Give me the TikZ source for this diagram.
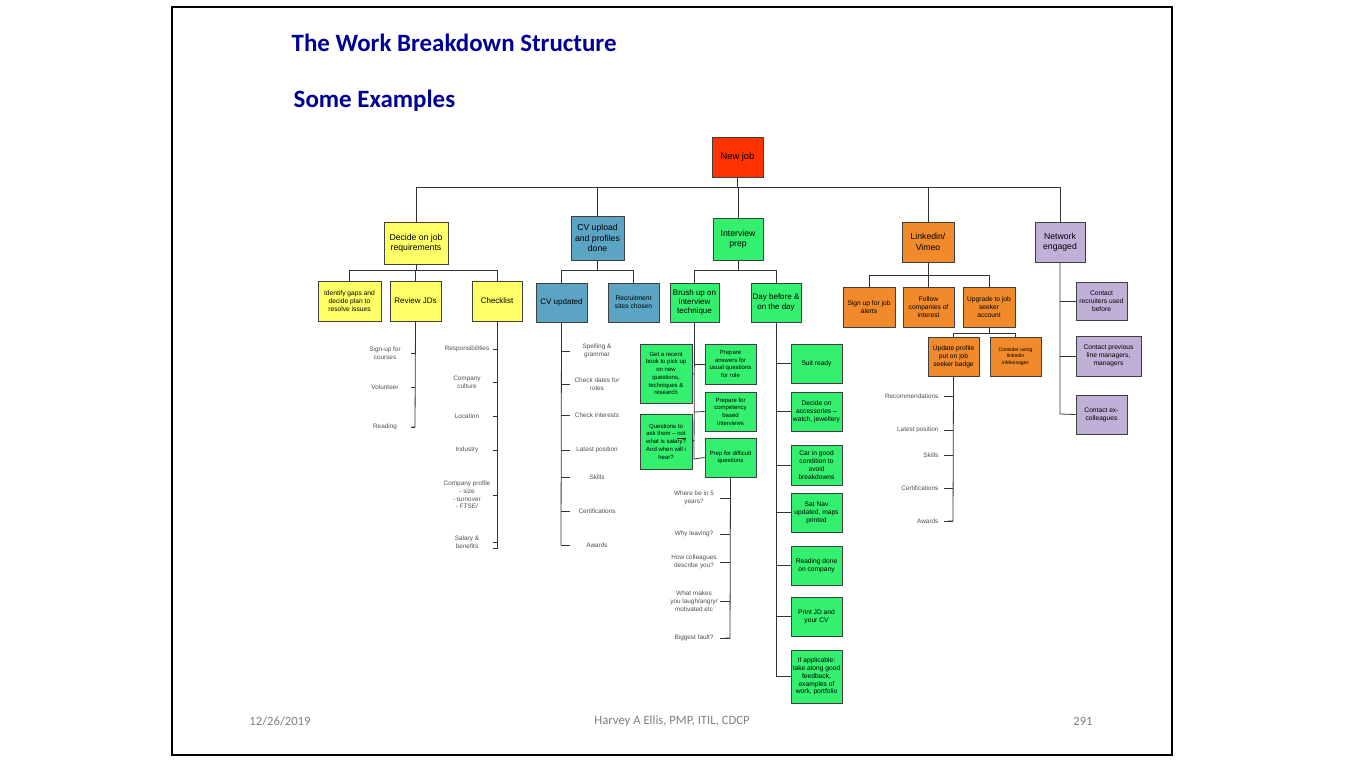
\documentclass[tikz,border=0pt]{standalone}
\usepackage{fontspec}
\setmainfont{Liberation Sans}
\newfontfamily\carlf{Carlito}
\definecolor{tblue}{RGB}{0,0,150}
\definecolor{cred}{RGB}{255,51,0}
\definecolor{cyel}{RGB}{255,255,102}
\definecolor{cblu}{RGB}{91,164,196}
\definecolor{cgrn}{RGB}{51,240,110}
\definecolor{corg}{RGB}{240,138,42}
\definecolor{clav}{RGB}{192,176,216}
\definecolor{lg}{RGB}{80,80,80}
\tikzset{
 box/.style={draw=black!75,line width=0.6pt,inner sep=0pt,align=center,font=\fontsize{6}{7}\selectfont},
 sm/.style={font=\fontsize{5}{5.9}\selectfont},
 xs/.style={font=\fontsize{4.5}{5.8}\selectfont},
 lf/.style={align=center,inner sep=1pt,font=\fontsize{4.8}{5.8}\selectfont,text=lg},
 ln/.style={draw=black!80,line width=0.6pt},
}
\newcommand\bx[8][]{\node[box,#1,fill=#7,minimum width={(#5-#3)*0.75pt},minimum height={(#6-#4)*0.75pt}] (#2) at ({(#3+#5)/2},{(#4+#6)/2}) {#8};}
\begin{document}
\begin{tikzpicture}[x=0.75pt,y=-0.75pt]
\useasboundingbox (0,0) rectangle (1366,768);
\fill[white] (0,0) rectangle (1366,768);
\draw[line width=1.5pt] (172,7) rectangle (1172,755);
\node[anchor=west,font=\carlf\fontsize{18.7}{20}\selectfont\bfseries,text=tblue] (t1) at (287,43) {The Work Breakdown Structure};
\node[anchor=west,font=\carlf\fontsize{18.7}{20}\selectfont\bfseries,text=tblue] (t2) at (289,101) {Some Examples};
\node[font=\carlf\fontsize{9.5}{11}\selectfont,text=black!50] (f1) at (280,721) {12/26/2019};
\node[font=\carlf\fontsize{9.5}{11}\selectfont,text=black!50] (f2) at (672,721) {Harvey A Ellis, PMP, ITIL, CDCP};
\node[font=\carlf\fontsize{9.5}{11}\selectfont,text=black!50] (f3) at (1083,721) {291};
% level 0/1
\bx[font=\fontsize{7}{8}\selectfont]{nj}{712}{137}{763}{177}{cred}{New job}
\bx[font=\fontsize{6.5}{7.8}\selectfont]{dec}{384}{222}{448}{264}{cyel}{Decide on job\\requirements}
\bx[font=\fontsize{6.5}{7.8}\selectfont]{cvu}{571}{216}{624}{260}{cblu}{CV upload\\and profiles\\done}
\bx[font=\fontsize{6.5}{7.8}\selectfont]{ip}{713}{218}{763}{260}{cgrn}{Interview\\prep}
\bx[font=\fontsize{6.5}{7.8}\selectfont]{li}{902}{222}{954}{262}{corg}{Linkedin/\\Vimeo}
\bx[font=\fontsize{6.5}{7.8}\selectfont]{ne}{1035}{222}{1085}{262}{clav}{Network\\engaged}
\foreach \n in {dec,cvu,ip,li,ne}{\draw[ln] (nj.south) -- (nj.south |- 0,187) -| (\n.north);}
% yellow
\bx[sm]{ig}{318}{281}{381}{321}{cyel}{Identify gaps and\\decide plan to\\resolve issues}
\bx{rj}{390}{281}{441}{321}{cyel}{Review JDs}
\bx{ck}{472}{281}{522}{321}{cyel}{Checklist}
\foreach \n in {ig,rj,ck}{\draw[ln] (dec.south) -- (dec.south |- 0,270) -| (\n.north);}
% blue
\bx{cv}{536}{283}{587}{322}{cblu}{CV updated}
\bx[sm]{rs}{608}{283}{659}{322}{cblu}{Recruitment\\sites chosen}
\foreach \n in {cv,rs}{\draw[ln] (cvu.south) -- (cvu.south |- 0,270) -| (\n.north);}
% green
\bx{bu}{670}{283}{719}{322}{cgrn}{Brush up on\\interview\\technique}
\bx{db}{751}{283}{801}{322}{cgrn}{Day before \&\\on the day}
\foreach \n in {bu,db}{\draw[ln] (ip.south) -- (ip.south |- 0,270) -| (\n.north);}
% orange
\bx[sm]{su}{843}{287}{895}{327}{corg}{Sign up for job\\alerts}
\bx[sm]{fc}{903}{287}{954}{327}{corg}{Follow\\companies of\\interest}
\bx[sm]{ug}{963}{287}{1015}{327}{corg}{Upgrade to job\\seeker\\account}
\foreach \n in {su,fc,ug}{\draw[ln] (li.south) -- (li.south |- 0,275) -| (\n.north);}
\bx[sm]{up}{928}{337}{979}{376}{corg}{Update profile\\put on job\\seeker badge}
\bx[font=\fontsize{3.8}{4.8}\selectfont]{cu}{990}{337}{1041}{376}{corg}{Consider using\\linkedin\\inMessages}
\foreach \n in {up,cu}{\draw[ln] (ug.south) -- (ug.south |- 0,333) -| (\n.north);}
% network
\bx[sm]{cr}{1076}{282}{1127}{320}{clav}{Contact\\recruiters used\\before}
\bx[sm]{cp}{1076}{336}{1141}{376}{clav}{Contact previous\\line managers,\\managers}
\bx[sm]{ce}{1076}{395}{1127}{434}{clav}{Contact ex-\\colleagues}
\draw[ln] (ne.south) -- (ne.south |- 0,414) -- (ce.west);
\draw[ln] (ne.south |- cr.west) -- (cr.west);
\draw[ln] (ne.south |- cp.west) -- (cp.west);
% Review JDs leaves
\coordinate (rjb) at (415,427);
\draw[ln] (rj.south) -- (rjb) -- ++(-4,0);
\foreach \t/\y/\n in {{Sign-up for\\courses}/353/a1,Volunteer/387/a2,Reading/427/a3}{
 \node[lf] (\n) at (385,\y) {\t};
 \draw[ln] (411,\y) -- (415,\y);}
% Checklist leaves
\draw[ln] (ck.south) -- (497,548) -- ++(-4,0);
\foreach \t/\y/\n in {Responsibilities/349/b1,{Company\\culture}/382/b2,Location/416/b3,Industry/450/b4,{Company profile\\- size\\- turnover\\- FTSE/}/495/b5,{Salary \&\\benefits}/542/b6}{
 \node[lf] (\n) at (467,\y) {\t};
 \draw[ln] (493,\y) -- (497,\y);}
% CV updated leaves
\draw[ln] (cv.south) -- (561,545);
\foreach \t/\y/\n in {{Spelling \&\\grammar}/351/c1,{Check dates for\\roles}/384/c2,Check interests/415/c3,Latest position/450/c4,Skills/477/c5,Certifications/511/c6,Awards/545/c7}{
 \node[lf] (\n) at (597,\y) {\t};
 \draw[ln] (561,\y) -- (570,\y);}
% Brush up
\bx[xs]{g1}{640}{344}{692}{403}{cgrn}{Get a recent\\book to pick up\\on new\\questions,\\techniques \&\\research}
\bx[xs]{g2}{705}{344}{756}{384}{cgrn}{Prepare\\answers for\\usual questions\\for role}
\bx[xs]{g3}{705}{392}{756}{431}{cgrn}{Prepare for\\competency\\based\\interviews}
\bx[xs]{g4}{640}{414}{692}{469}{cgrn}{Questions to\\ask them -- \underline{not}\\what is salary?\\And when will i\\hear?}
\bx[xs]{g5}{705}{438}{756}{477}{cgrn}{Prep for difficult\\questions}
\draw[ln] (bu.south) -- (694,459) -- (g5.west);
\draw[ln] (694,364) -- (g2.west);
\draw[ln] (694,412) -- (g3.west);
\draw[ln] (g1.east) -- (694,374);
\draw[ln] (g4.east) -- (694,440);
% difficult questions leaves
\draw[ln] (g5.south) -- (730,638) -- ++(-5,0);
\foreach \t/\y/\n in {{Where be in 5\\years?}/498/d1,Why leaving?/534/d2,{How colleagues\\describe you?}/562/d3,{What makes\\you laugh/angry/\\motivated etc}/601/d4,Biggest fault?/638/d5}{
 \node[lf] (\n) at (694,\y) {\t};
 \draw[ln] (720,\y) -- (730,\y);}
% Day before
\draw[ln] (db.south) -- (776,677);
\foreach \n/\ya/\yb/\t in {e1/344/383/{Suit ready},e2/392/431/{Decide on\\accessories --\\watch, jewellery},e3/445/485/{Car in good\\condition to\\avoid\\breakdowns},e4/493/532/{Sat Nav\\updated, maps\\printed},e5/546/585/{Reading done\\on company},e6/597/636/{Print JD and\\your CV},e7/650/703/{If applicable:\\take along good\\feedback,\\examples of\\work, portfolio}}{
 \bx[sm]{\n}{791}{\ya}{842}{\yb}{cgrn}{\t}
 \draw[ln] (776,{(\ya+\yb)/2}) -- (\n.west);}
% Update profile leaves
\draw[ln] (up.south) -- (953,521) -- ++(-5,0);
\foreach \t/\y/\n in {Recommendations/396/h1,Latest position/430/h2,Skills/455/h3,Certifications/488/h4,Awards/521/h5}{
 \node[lf,anchor=east] (\n) at (940,\y) {\t};
 \draw[ln] (944,\y) -- (953,\y);}
\end{tikzpicture}
\end{document}
